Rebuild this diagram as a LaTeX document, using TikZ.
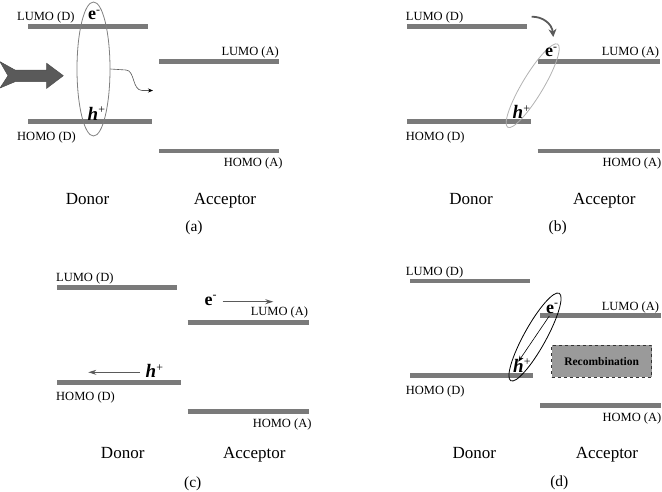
\documentclass[tikz,border=0pt]{standalone}
\usepackage{fontspec}
\setmainfont{Liberation Serif}
\usetikzlibrary{shapes.geometric,arrows.meta}
\definecolor{bargray}{HTML}{7A7A7A}
\definecolor{arrowgray}{HTML}{5A5A5A}
\definecolor{boxgray}{HTML}{9A9A9A}
\newcommand{\elec}{{\fontsize{18}{18}\selectfont\bfseries e}\textsuperscript{-}}
\newcommand{\hole}{{\fontsize{19}{19}\selectfont\bfseries\itshape h}\textsuperscript{+}}
\begin{document}
\begin{tikzpicture}[x=1pt,y=-1pt,
  level/.style={line width=4.5pt, bargray},
  lbl/.style={font=\fontsize{12.5}{12}\selectfont, inner sep=0},
  side/.style={font=\fontsize{17}{17}\selectfont, inner sep=0, anchor=base},
  capt/.style={font=\fontsize{15.5}{16}\selectfont, inner sep=0},
  carrier/.style={font=\fontsize{17}{17}\selectfont, inner sep=0, anchor=base west},
  pair/.style={draw, ellipse, inner sep=0, line width=0.8pt},
  move/.style={line width=1pt, arrowgray, -{Stealth[length=8pt,width=5pt]}}]
\useasboundingbox (0,0) rectangle (662,491);

% ---------------- (a)
\draw[level] (28,26.7) coordinate (aLD1) -- (148,26.7) coordinate (aLD2);
\draw[level] (28,121.7) coordinate (aHD1) -- (152,121.7) coordinate (aHD2);
\draw[level] (159,61.7) coordinate (aLA1) -- (279,61.7) coordinate (aLA2);
\draw[level] (159,151) coordinate (aHA1) -- (279,151) coordinate (aHA2);
\node[lbl, anchor=base west] (aLDl) at (17,20.7) {LUMO (D)};
\node[lbl, anchor=base west] (aHDl) at (17,140) {HOMO (D)};
\node[lbl, anchor=base east] (aLAl) at (279,55.7) {LUMO (A)};
\node[lbl, anchor=base east] (aHAl) at (282.7,166.7) {HOMO (A)};
\node[side] (aDon) at (87.5,204) {Donor};
\node[side] (aAcc) at (225,204) {Acceptor};
\node[capt] (acap) at (194,228) {(a)};
\node[pair, draw=gray, minimum width=33pt, minimum height=134pt] (aex) at (93.5,69) {};
\node[carrier] (ae) at (88,19.3) {\elec};
\node[carrier] (ah) at (87.5,120) {\hole};
\fill[arrowgray, draw=black!70, line width=0.5pt]
  (0,61.7) -- (15,70) -- (46.7,70) -- (46.7,63.3) -- (63.3,75.7) -- (46.7,88.3)
  -- (46.7,81.7) -- (15,81.7) -- (0,88) -- (8,75.7) -- cycle;
\coordinate (awend) at (153,90.5);
\draw[line width=0.6pt, arrowgray, -{Stealth[length=5pt,width=4pt,black]}]
  (aex.east) -- (126,70) .. controls (135,70.5) and (132,90) .. (142,90.5) -- (awend);

% ---------------- (b)
\draw[level] (407,26.7) coordinate (bLD1) -- (527,26.7) coordinate (bLD2);
\draw[level] (407,121.7) coordinate (bHD1) -- (531,121.7) coordinate (bHD2);
\draw[level] (537.7,61.7) coordinate (bLA1) -- (659.5,61.7) coordinate (bLA2);
\draw[level] (537.7,151) coordinate (bHA1) -- (659.5,151) coordinate (bHA2);
\node[lbl, anchor=base west] (bLDl) at (405.7,20) {LUMO (D)};
\node[lbl, anchor=base west] (bHDl) at (405.7,140) {HOMO (D)};
\node[lbl, anchor=base east] (bLAl) at (659.3,55.7) {LUMO (A)};
\node[lbl, anchor=base east] (bHAl) at (661.5,166.7) {HOMO (A)};
\node[side] (bDon) at (471,204) {Donor};
\node[side] (bAcc) at (604.3,204) {Acceptor};
\node[capt] (bcap) at (557.7,228) {(b)};
\node[pair, draw=gray!60, minimum width=97pt, minimum height=21pt, rotate=59] (bex) at (532.7,85.7) {};
\node[carrier] (be) at (545,56.7) {\elec};
\node[carrier] (bh) at (512.5,118.3) {\hole};
\coordinate (bcs) at (531.7,16.7);
\coordinate (bce) at (553.3,37);
\draw[line width=1.8pt, arrowgray, -{Stealth[length=8pt,width=8pt]}]
  (bcs) .. controls (543,16.5) and (552,24) .. (bce);

% ---------------- (c)
\draw[level] (57.3,287.7) coordinate (cLD1) -- (177.3,287.7) coordinate (cLD2);
\draw[level] (57.3,382.7) coordinate (cHD1) -- (181,382.7) coordinate (cHD2);
\draw[level] (187.7,322.3) coordinate (cLA1) -- (309,322.3) coordinate (cLA2);
\draw[level] (187.7,411.7) coordinate (cHA1) -- (309,411.7) coordinate (cHA2);
\node[lbl, anchor=base west] (cLDl) at (56,281.7) {LUMO (D)};
\node[lbl, anchor=base west] (cHDl) at (56,400) {HOMO (D)};
\node[lbl, anchor=base east] (cLAl) at (308.3,315.7) {LUMO (A)};
\node[lbl, anchor=base east] (cHAl) at (311.7,427.7) {HOMO (A)};
\node[side] (cDon) at (122.7,458.3) {Donor};
\node[side] (cAcc) at (254.3,458.3) {Acceptor};
\node[capt] (ccap) at (192.7,483.3) {(c)};
\node[carrier] (ce) at (204.5,305) {\elec};
\node[carrier] (ch) at (145.5,377.7) {\hole};
\coordinate (ces) at (222.7,301.7);
\coordinate (cet) at (273.3,301.7);
\coordinate (chs) at (140,372.3);
\coordinate (cht) at (88.3,372.3);
\draw[move] (ces) -- (cet);
\draw[move] (chs) -- (cht);

% ---------------- (d)
\draw[level] (410,281) coordinate (dLD1) -- (530,281) coordinate (dLD2);
\draw[level] (410,375.7) coordinate (dHD1) -- (533.3,375.7) coordinate (dHD2);
\draw[level] (540.3,315.7) coordinate (dLA1) -- (661,315.7) coordinate (dLA2);
\draw[level] (540.3,405.7) coordinate (dHA1) -- (661,405.7) coordinate (dHA2);
\node[lbl, anchor=base west] (dLDl) at (405.7,275) {LUMO (D)};
\node[lbl, anchor=base west] (dHDl) at (405.7,394.3) {HOMO (D)};
\node[lbl, anchor=base east] (dLAl) at (659.3,310.7) {LUMO (A)};
\node[lbl, anchor=base east] (dHAl) at (661.5,421.7) {HOMO (A)};
\node[side] (dDon) at (474.3,458.3) {Donor};
\node[side] (dAcc) at (607,458.3) {Acceptor};
\node[capt] (dcap) at (559.3,483) {(d)};
\node[pair, draw=black, minimum width=100pt, minimum height=22pt, rotate=61] (dex) at (535,337) {};
\node[carrier] (de) at (546,313) {\elec};
\node[carrier] (dh) at (513,372) {\hole};
\coordinate (dfrom) at (549.3,316);
\coordinate (dto) at (518.3,361.7);
\draw[line width=0.6pt, black, -{Stealth[length=6pt,width=4.5pt]}] (dfrom) -- (dto);
\node[draw=black!80, dashed, fill=boxgray, line width=0.7pt, minimum width=100pt,
  minimum height=32pt, inner sep=0, font=\fontsize{11.5}{12}\selectfont\bfseries] (drec)
  at (601.7,361.2) {Recombination};
\end{tikzpicture}
\end{document}
